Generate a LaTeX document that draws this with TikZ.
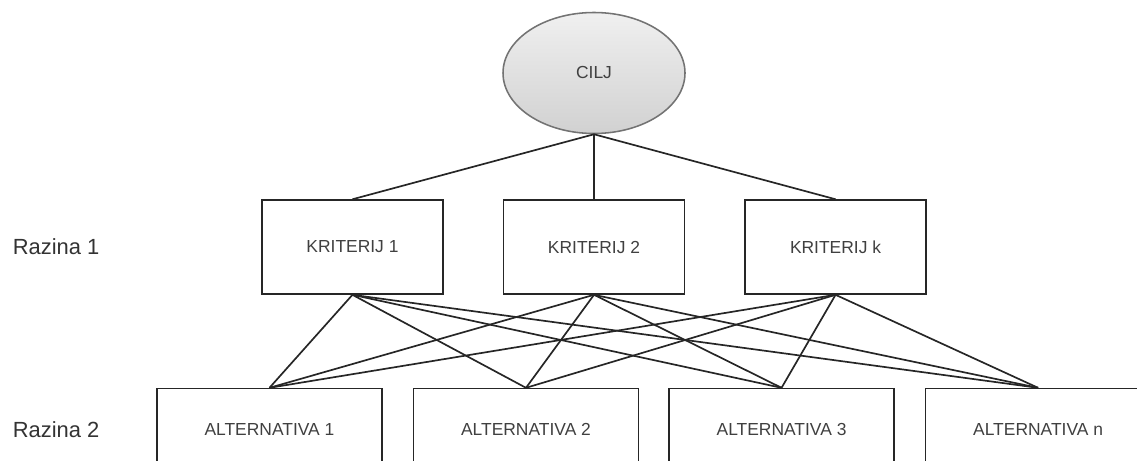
\documentclass[tikz,border=0pt]{standalone}
\usepackage{fontspec}
\setmainfont{Liberation Sans}
\usetikzlibrary{positioning}
\usetikzlibrary{shapes.geometric}

\begin{document}
\begin{tikzpicture}[
		node distance=1.475cm,
		line width=1.1pt,
		link/.style={draw=black!85, line width=1.2pt},
		goalshape/.style={ellipse, draw=black!55, top color=black!6, bottom color=black!18,
			minimum width=4.55cm, minimum height=3.025cm, inner sep=0pt,
			text=black!75, font=\fontsize{12.4}{14}\selectfont},
		critbox/.style={rectangle, draw=black!85, minimum width=4.525cm, minimum height=2.35cm,
			text=black!75, font=\fontsize{12.4}{14}\selectfont},
		altbox/.style={critbox, minimum width=5.625cm, minimum height=2.05cm},
		levellabel/.style={anchor=west, inner sep=0pt, text=black!80, font=\fontsize{15.6}{18}\selectfont},
	]
	\useasboundingbox (0,0) rectangle (28.425,-11.525);
	\clip (0,0) rectangle (28.425,-11.525);
	\coordinate (margin) at (0.3,0);
	\node (goal) [goalshape] at (14.85,-1.825) {CILJ};
	\node (k2) [critbox, below=1.625cm of goal] {KRITERIJ 2};
	\node (k1) [critbox, left=of k2] {KRITERIJ 1};
	\node (kk) [critbox, right=of k2] {KRITERIJ k};
	\node (a1) [altbox, below=2.325cm of k1, xshift=-2.075cm] {ALTERNATIVA 1};
	\node (a2) [altbox, right=0.75cm of a1] {ALTERNATIVA 2};
	\node (a3) [altbox, right=0.725cm of a2] {ALTERNATIVA 3};
	\node (an) [altbox, right=0.75cm of a3] {ALTERNATIVA n};
	\node (lvl1) [levellabel] at (margin |- k1) {Razina 1};
	\node (lvl2) [levellabel] at (margin |- a1) {Razina 2};

	\foreach \k in {k1,k2,kk}
		\draw[link] (goal.south) -- (\k.north);
	\foreach \k in {k1,k2,kk}
		\foreach \a in {a1,a2,a3,an}
			\draw[link] (\k.south) -- (\a.north);
\end{tikzpicture}
\end{document}
